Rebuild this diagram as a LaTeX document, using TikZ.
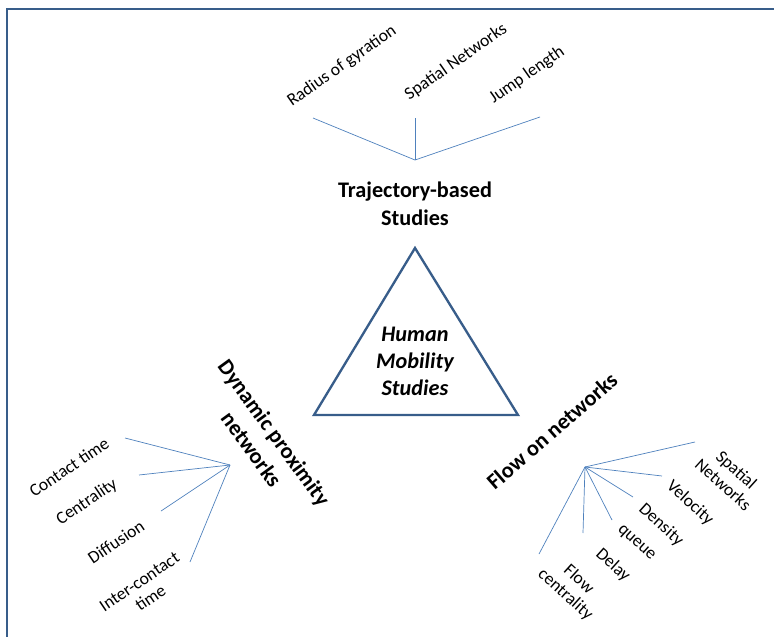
\documentclass[tikz,border=0pt]{standalone}
\usepackage{fontspec}
\setmainfont{Carlito}
\definecolor{framec}{RGB}{56,93,138}
\definecolor{fanc}{RGB}{79,129,189}
\begin{document}
\begin{tikzpicture}[x=0.03cm, y=-0.03cm,
        topic/.style={font=\bfseries\fontsize{19}{24}\selectfont, align=center, inner sep=0pt},
        leaf/.style={font=\fontsize{15}{17}\selectfont, align=center, inner sep=0pt},
        fan/.style={fanc, line width=0.6pt}]
    \useasboundingbox (0,0) rectangle (774,637);
    \draw[framec, line width=2.4pt] (7,637) -- (7,9) -- (774,9);

    % centre triangle
    \draw[framec, line width=2pt] (415,248) -- (518,415) -- (314,415) -- cycle;
    \node[topic, font=\bfseries\itshape\fontsize{19}{23}\selectfont] (hms) at (415,361) {Human\\Mobility\\Studies};

    % trajectory-based studies
    \node[topic] (traj) at (415,204) {Trajectory-based\\Studies};
    \coordinate (thub) at (415,160);
    \coordinate (t1) at (313,118);
    \coordinate (t2) at (415,118);
    \coordinate (t3) at (540,117);
    \node[leaf, rotate=35] (radius) at (342,66) {Radius of gyration};
    \node[leaf, rotate=35] (spatial) at (456,62) {Spatial Networks};
    \node[leaf, rotate=35] (jump) at (527,75) {Jump length};
    \draw[fan] (thub) edge (t1) edge (t2) edge (t3);

    % dynamic proximity networks
    \node[topic, rotate=-54] (dyn) at (263,441) {Dynamic proximity\\networks};
    \coordinate (dhub) at (230,465);
    \coordinate (d1) at (125,438);
    \coordinate (d2) at (139,475);
    \coordinate (d3) at (161,511);
    \coordinate (d4) at (190,562);
    \node[leaf, rotate=34] (contact) at (69,467) {Contact time};
    \node[leaf, rotate=34] (central) at (87,502) {Centrality};
    \node[leaf, rotate=34] (diffusion) at (116,542) {Diffusion};
    \node[leaf, rotate=34] (inter) at (145,590) {Inter-contact\\time};
    \draw[fan] (dhub) edge (d1) edge (d2) edge (d3) edge (d4);

    % flow on networks
    \node[topic, rotate=41] (flow) at (552,431) {Flow on networks};
    \coordinate (fhub) at (585,467);
    \coordinate (f1) at (695,442);
    \coordinate (f2) at (662,476);
    \coordinate (f3) at (633,497);
    \coordinate (f4) at (612,520);
    \coordinate (f5) at (583,533);
    \coordinate (f6) at (539,554);
    \node[leaf, rotate=-42] (fspatial) at (730,477) {Spatial\\Networks};
    \node[leaf, rotate=-42] (velocity) at (690,503) {Velocity};
    \node[leaf, rotate=-42] (density) at (661,525) {Density};
    \node[leaf, rotate=-42] (queue) at (636,543) {queue};
    \node[leaf, rotate=-42] (delay) at (613,565) {Delay};
    \node[leaf, rotate=-42] (flowc) at (572,587) {Flow\\centrality};
    \draw[fan] (fhub) edge (f1) edge (f2) edge (f3) edge (f4) edge (f5) edge (f6);
\end{tikzpicture}
\end{document}
